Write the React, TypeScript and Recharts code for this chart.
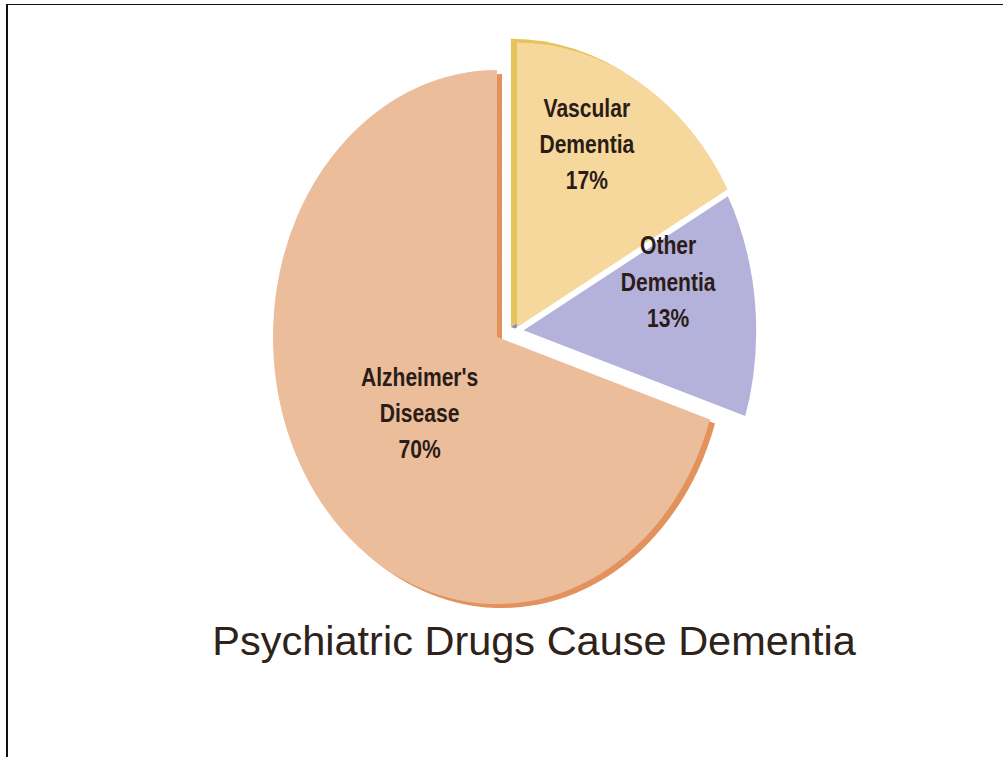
import React from 'react';
import { PieChart, Pie, Cell } from 'recharts';

const CATEGORIES = ["Alzheimer's Disease", 'Other Dementia', 'Vascular Dementia'];
const SHARES = [70, 13, 17];
const TITLE = 'Psychiatric Drugs Cause Dementia';

// face colour and the darker "side" colour of the fake 3D rim
const FACE_COLORS = ['#EBBD9B', '#B4B1DB', '#F7D89C'];
const SIDE_COLORS = ['#E3925E', '#8F8BC9', '#E6C35A'];
// the two small slices sit raised/exploded from the big one
const RAISED = [false, true, true];

const slices = CATEGORIES.map((name, i) => ({ name, value: SHARES[i] }));

// the picture is a tilted pie, so the circular chart is squashed into an ellipse
const SX = 0.896;
const SY = 1.068;
const W = 600;
const H = 660;
const OX = 300;
const OY = 330;
const R_MAIN = 250;
const R_RAISED = 270;

// label placement per slice: extra turn (deg) and share of the radius
const LABEL_TURN = [3.4, 9.9, 6.6];
const LABEL_FRAC = [0.447, 0.648, 0.71];

const RAD = Math.PI / 180;
const LABEL_FONT = '"Liberation Sans", Arial, Helvetica, sans-serif';

function makeLabel(raised: boolean) {
  return (props: any) => {
    const { cx, cy, midAngle, outerRadius, index } = props;
    if (RAISED[index] !== raised) return null;
    const a = (midAngle + LABEL_TURN[index]) * RAD;
    const r = outerRadius * LABEL_FRAC[index];
    const x = cx + r * Math.cos(a);
    const y = cy - r * Math.sin(a);
    const words = CATEGORIES[index].split(' ');
    return (
      <text
        x={x}
        y={y + 8.5 - 34}
        textAnchor="middle"
        fill="#2A1C17"
        fontFamily={LABEL_FONT}
        fontSize={23.5}
        fontWeight="bold"
      >
        <tspan x={x}>{words[0]}</tspan>
        <tspan x={x} dy={34}>{words[1]}</tspan>
        <tspan x={x} dy={34}>{SHARES[index]}%</tspan>
      </text>
    );
  };
}

export default function App() {
  return (
    <div
      style={{
        position: 'absolute',
        left: 0,
        top: 0,
        width: 1003,
        height: 757,
        overflow: 'hidden',
        background: '#fff',
      }}
    >
      <div style={{ position: 'absolute', left: 6, top: 4, width: 2, height: 753, background: '#111' }} />
      <div style={{ position: 'absolute', left: 6, top: 4, width: 997, height: 1, background: '#111' }} />

      <div
        style={{
          position: 'absolute',
          left: 502 - OX,
          top: 341 - OY,
          width: W,
          height: H,
          transform: `scale(${SX}, ${SY})`,
          transformOrigin: `${OX}px ${OY}px`,
        }}
      >
        <PieChart width={W} height={H} margin={{ top: 0, right: 0, bottom: 0, left: 0 }}>
          {/* big slice: rim, then face */}
          <Pie
            data={slices}
            dataKey="value"
            nameKey="name"
            cx={OX}
            cy={OY}
            outerRadius={R_MAIN}
            startAngle={90}
            endAngle={450}
            stroke="none"
            isAnimationActive={false}
          >
            {slices.map((s, i) => (
              <Cell key={s.name} fill={RAISED[i] ? 'transparent' : SIDE_COLORS[i]} stroke="none" />
            ))}
          </Pie>
          <Pie
            data={slices}
            dataKey="value"
            nameKey="name"
            cx={OX - 5.6}
            cy={OY - 3.7}
            outerRadius={R_MAIN}
            startAngle={90}
            endAngle={450}
            stroke="none"
            label={makeLabel(false)}
            labelLine={false}
            isAnimationActive={false}
          >
            {slices.map((s, i) => (
              <Cell key={s.name} fill={RAISED[i] ? 'transparent' : FACE_COLORS[i]} stroke="none" />
            ))}
          </Pie>

          {/* raised slices: rim, face, then a white cut between them */}
          <Pie
            data={slices}
            dataKey="value"
            nameKey="name"
            cx={OX + 10}
            cy={OY - 13}
            outerRadius={R_RAISED}
            startAngle={90}
            endAngle={450}
            isAnimationActive={false}
          >
            {slices.map((s, i) => (
              <Cell key={s.name} fill={RAISED[i] ? SIDE_COLORS[i] : 'transparent'} stroke="none" />
            ))}
          </Pie>
          <Pie
            data={slices}
            dataKey="value"
            nameKey="name"
            cx={OX + 16.7}
            cy={OY - 9.4}
            outerRadius={R_RAISED}
            startAngle={90}
            endAngle={450}
            isAnimationActive={false}
          >
            {slices.map((s, i) => (
              <Cell key={s.name} fill={RAISED[i] ? FACE_COLORS[i] : 'transparent'} stroke="none" />
            ))}
          </Pie>
          <Pie
            data={slices}
            dataKey="value"
            nameKey="name"
            cx={OX + 16.7}
            cy={OY - 9.4}
            outerRadius={R_RAISED}
            startAngle={90}
            endAngle={450}
            label={makeLabel(true)}
            labelLine={false}
            isAnimationActive={false}
          >
            {slices.map((s, i) => (
              <Cell
                key={s.name}
                fill="none"
                stroke={i === 1 ? '#fff' : 'none'}
                strokeWidth={6}
              />
            ))}
          </Pie>
        </PieChart>
      </div>

      <div
        style={{
          position: 'absolute',
          left: 534,
          top: 620,
          transform: 'translateX(-50%)',
          whiteSpace: 'nowrap',
          fontFamily: '"Liberation Sans", Arial, Helvetica, sans-serif',
          fontSize: 41.5,
          lineHeight: '41px',
          color: '#2F2219',
        }}
      >
        {TITLE}
      </div>
    </div>
  );
}
